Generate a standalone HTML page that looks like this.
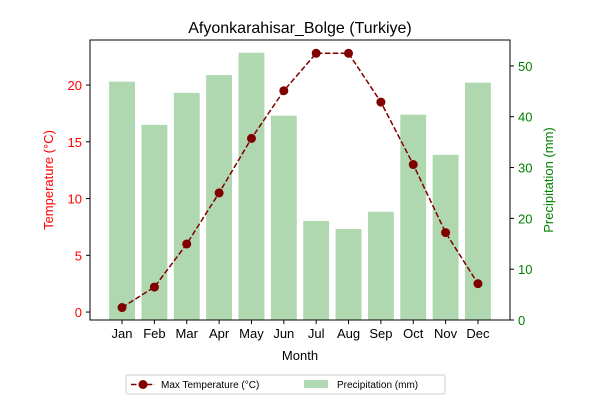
<!DOCTYPE html>
<html><head><meta charset="utf-8"><style>
body{margin:0;background:#fff;}
svg text{font-family:"Liberation Sans","DejaVu Sans",sans-serif;}
</style></head><body>
<svg id="chart" width="600" height="400" xmlns="http://www.w3.org/2000/svg"></svg>
<script>
const months=["Jan","Feb","Mar","Apr","May","Jun","Jul","Aug","Sep","Oct","Nov","Dec"];
const maxTemp=[0.4,2.2,6.0,10.5,15.3,19.5,22.8,22.8,18.5,13.0,7.0,2.5];
const precip=[46.9,38.4,44.7,48.2,52.6,40.2,19.5,17.9,21.3,40.4,32.5,46.7];
const tempTicks=[0,5,10,15,20];
const precipTicks=[0,10,20,30,40,50];

const svg=document.getElementById('chart');
const NS='http://www.w3.org/2000/svg';
const L=90,R=510,T=40,B=320;
const xs=i=>L+(i+0.99)/(12.98)*(R-L);
const yT=v=>B-(v+0.7)/(24.67)*(B-T);
const yP=v=>B-v/55.1*(B-T);
function mk(tag,attrs,parent){const e=document.createElementNS(NS,tag);for(const k in attrs)e.setAttribute(k,attrs[k]);(parent||svg).appendChild(e);return e;}
function txt(s,attrs){const e=mk('text',attrs);e.textContent=s;return e;}

const bw=(R-L)/12.98*0.8;
precip.forEach((p,i)=>{
  const r=mk('rect',{x:xs(i)-bw/2,y:yP(p),width:bw,height:B-yP(p),fill:'#b0d8b0'});
  
  
});
let d='';
maxTemp.forEach((t,i)=>{d+=(i?'L':'M')+xs(i)+' '+yT(t);});
const line=mk('path',{d:d,fill:'none',stroke:'#800000','stroke-width':1.5,'stroke-dasharray':'5.5,2.4'});


maxTemp.forEach((t,i)=>{
  const c=mk('circle',{cx:xs(i),cy:yT(t),r:4.5,fill:'#800000'});
  
  
});
const frame=mk('rect',{x:L,y:T,width:R-L,height:B-T,fill:'none',stroke:'#000','stroke-width':1});


months.forEach((m,i)=>{
  mk('line',{x1:xs(i),x2:xs(i),y1:B,y2:B+4,stroke:'#000'});
  const t=txt(m,{x:xs(i),y:B+18,'text-anchor':'middle','font-size':13});
  
  
});
tempTicks.forEach(v=>{
  mk('line',{x1:L-4,x2:L,y1:yT(v),y2:yT(v),stroke:'#000'});
  const t=txt(v,{x:L-8,y:yT(v)+5,'text-anchor':'end','font-size':13,fill:'red'});
  
  
});
precipTicks.forEach(v=>{
  mk('line',{x1:R,x2:R+4,y1:yP(v),y2:yP(v),stroke:'#000'});
  const t=txt(v,{x:R+8,y:yP(v)+5,'font-size':13,fill:'green'});
  
  
});
let e;
e=txt('Afyonkarahisar_Bolge (Turkiye)',{x:300,y:33,'text-anchor':'middle','font-size':16});

e=txt('Month',{x:300,y:360,'text-anchor':'middle','font-size':13});

e=txt('Temperature (°C)',{x:0,y:0,'text-anchor':'middle','font-size':13,fill:'red',transform:'translate(53,180) rotate(-90)'});

e=txt('Precipitation (mm)',{x:0,y:0,'text-anchor':'middle','font-size':13,fill:'green',transform:'translate(553,180) rotate(-90)'});

const lg=mk('g',{});


mk('rect',{x:126,y:375,width:319,height:19,rx:2,fill:'#fff',stroke:'#ccc'},lg);
mk('line',{x1:131,x2:155,y1:384.5,y2:384.5,stroke:'#800000','stroke-width':1.5,'stroke-dasharray':'5.5,2.4'},lg);
mk('circle',{cx:143,cy:384.5,r:4.5,fill:'#800000'},lg);
const l1=mk('text',{x:161,y:388,'font-size':10},lg);l1.textContent='Max Temperature (°C)';
mk('rect',{x:304,y:380,width:24,height:8,fill:'#b0d8b0'},lg);
const l2=mk('text',{x:337,y:388,'font-size':10},lg);l2.textContent='Precipitation (mm)';
</script>
</body></html>
